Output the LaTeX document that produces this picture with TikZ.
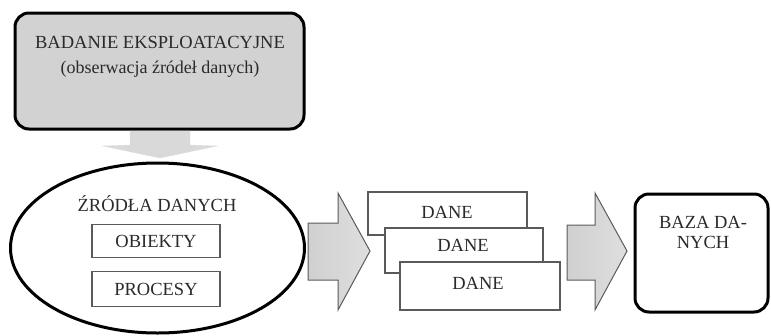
\documentclass[tikz,border=0pt]{standalone}
\usepackage{fontspec}
\setmainfont{Liberation Serif}
\usetikzlibrary{shapes.geometric}
\definecolor{boxgray}{HTML}{D2D2D2}
\definecolor{arrgray}{HTML}{C4C4C4}
\definecolor{thinline}{HTML}{5A5A5A}
\definecolor{txtcol}{HTML}{2A2A2A}
\tikzset{
  txt/.style={font=\fontsize{18.5}{25}\selectfont, text=txtcol, align=center, inner sep=0pt},
  thickbox/.style={draw=black, line width=3pt, rounded corners=14pt},
  thinbox/.style={draw=thinline, line width=1.8pt, fill=white},
  bigarrow/.style={draw=thinline, line width=1pt, left color=arrgray!80, right color=arrgray!55},
}
\begin{document}
\begin{tikzpicture}[x=1pt,y=-1pt]
\useasboundingbox (0,0) rectangle (771,335);
% top box
\draw[thickbox, fill=boxgray] (15,13) rectangle (304,129);
\node[txt] (toptext) at (160,57) {BADANIE EKSPLOATACYJNE\\{\fontsize{18}{25}\selectfont(obserwacja źródeł danych)}};
% down arrow
\path[fill=boxgray!85, draw=boxgray!70] (130,131) -- (190,131) -- (190,145) -- (217,146) -- (160,158) -- (103,146) -- (130,145) -- cycle;
% ellipse
\node[ellipse, draw=black, line width=3pt, minimum width=294pt, minimum height=170pt, inner sep=0pt] (src) at (157.5,248) {};
\node[txt] (srct) at (157,204) {ŹRÓDŁA DANYCH};
\node[thinbox, minimum width=128pt, minimum height=33pt, txt] (obj) at (156,241) {OBIEKTY};
\node[thinbox, minimum width=128pt, minimum height=35pt, txt] (proc) at (156,289) {PROCESY};
% arrow 1
\path[bigarrow] (308,223) -- (338,223) -- (338,193) -- (370,251) -- (338,310) -- (338,280) -- (308,280) -- cycle;
% DANE boxes
\node[thinbox, minimum width=159pt, minimum height=43pt] (d1) at (447.5,213.5) {};
\node[txt] (d1t) at (447,212) {DANE};
\node[thinbox, minimum width=158pt, minimum height=45pt] (d2) at (464,250.5) {};
\node[txt] (d2t) at (463,245) {DANE};
\node[thinbox, minimum width=160pt, minimum height=48pt] (d3) at (480,286) {};
\node[txt] (d3t) at (478,283) {DANE};
% arrow 2
\path[bigarrow] (567,225) -- (595,225) -- (595,193) -- (627,251) -- (595,310) -- (595,280) -- (567,280) -- cycle;
% database box
\draw[thickbox, fill=white] (635,194) rectangle (768,312);
\node[txt, font=\fontsize{18.5}{20}\selectfont] (baza) at (703,232) {BAZA DA-\\NYCH};
\end{tikzpicture}
\end{document}
